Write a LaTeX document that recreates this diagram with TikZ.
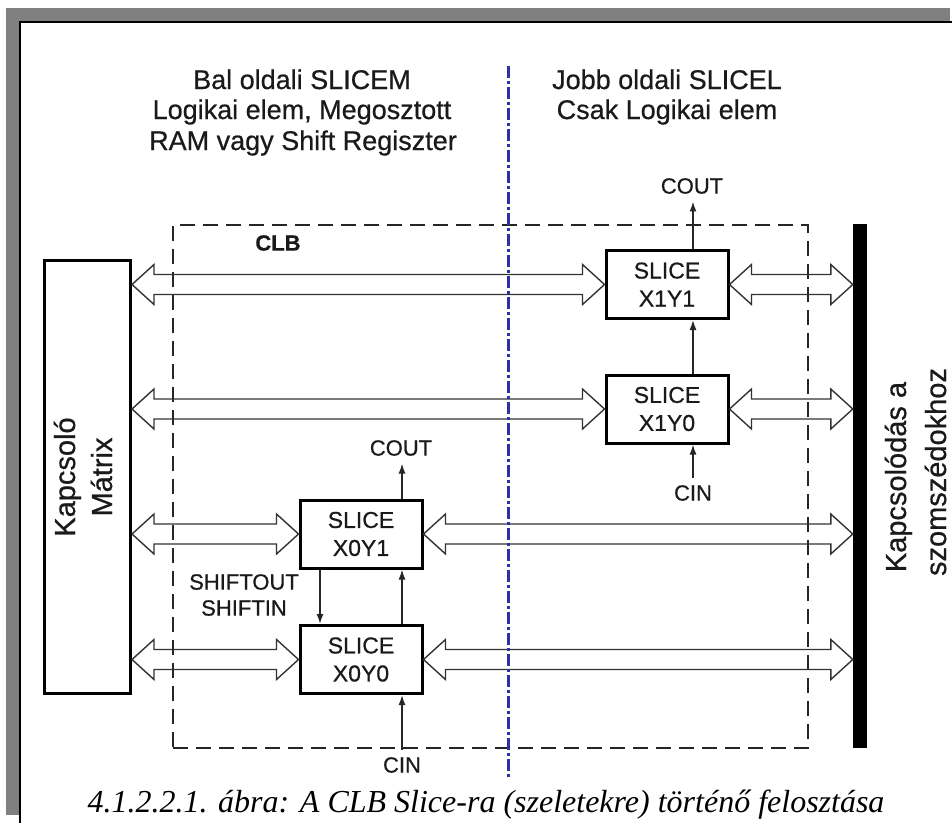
\documentclass[tikz,border=0pt]{standalone}
\usepackage{fontspec}
\setmainfont{Liberation Sans}[RawFeature={embolden=0.6}]
\newfontfamily\capfont{Liberation Serif}
\usetikzlibrary{calc,arrows.meta}

\definecolor{txt}{HTML}{1A1A1A}
\definecolor{frameg}{HTML}{808080}
\definecolor{divblue}{HTML}{2C31A8}
\definecolor{arrline}{HTML}{333333}

\tikzset{
  slicebox/.style={draw=black, line width=3pt, minimum width=122pt, minimum height=68pt,
    inner sep=0pt, align=center, text=txt, font=\fontsize{23}{28}\selectfont},
  lbl/.style={font=\fontsize{22}{26}\selectfont, text=txt, inner xsep=0pt, inner ysep=7.5pt},
  hdr/.style={font=\fontsize{27}{31}\selectfont, text=txt, inner sep=0pt, anchor=base},
  rot/.style={font=\fontsize{29}{35}\selectfont, text=txt, inner sep=0pt, anchor=base, rotate=90},
  sarrow/.style={line width=1.5pt, draw=black!85, -{Latex[length=10pt,width=7pt]}},
  dbl/.style={draw=arrline, line width=1.4pt, line join=miter},
  clbline/.style={draw=black!85, line width=1.6pt, dash pattern=on 15pt off 8pt},
  divline/.style={draw=divblue, line width=3pt, dash pattern=on 12pt off 3pt on 3pt off 3pt},
}

\newcommand{\dblarrow}[2]{%
  \draw[dbl] let \p1=(#1), \p2=(#2) in
   (\x1,\y1) -- (\x1+22pt,\y1+20pt) -- (\x1+22pt,\y1+10pt) -- (\x2-22pt,\y1+10pt)
   -- (\x2-22pt,\y1+20pt) -- (\x2,\y1) -- (\x2-22pt,\y1-20pt) -- (\x2-22pt,\y1-10pt)
   -- (\x1+22pt,\y1-10pt) -- (\x1+22pt,\y1-20pt) -- cycle;}

\begin{document}
\begin{tikzpicture}[x=1pt,y=-1pt]
\useasboundingbox (0,0) rectangle (952,823);
\fill[white] (0,0) rectangle (952,823);

% page frame
\fill[frameg] (6,8) rectangle (950,21);
\fill[frameg] (6,8) rectangle (19,815);
\fill[black] (19,21) rectangle (952,23);
\fill[black] (19,21) rectangle (21,823);

% headers
\node[hdr] (h1a) at (302,89) {Bal oldali SLICEM};
\node[hdr] (h1b) at (302,119) {Logikai elem, Megosztott};
\node[hdr] (h1c) at (303,150) {RAM vagy Shift Regiszter};
\node[hdr] (h2a) at (667,89) {Jobb oldali SLICEL};
\node[hdr] (h2b) at (667,119) {Csak Logikai elem};

% CLB frame
\node[clbline, minimum width=635pt, minimum height=523pt, inner sep=0pt] (clb) at (490.5,486.5) {};
\node[font=\bfseries\fontsize{22}{26}\selectfont, text=txt, inner sep=0pt] (clbl) at (278,243) {CLB};

% switch matrix
\node[draw=black, line width=3pt, minimum width=86pt, minimum height=433pt, inner sep=0pt] (km) at (87.5,477) {};
\node[rot] (km1) at (75,477) {Kapcsoló};
\node[rot] (km2) at (112,477) {Mátrix};

% neighbour bar
\node[fill=black, minimum width=14pt, minimum height=524pt, inner sep=0pt] (bar) at (860,486) {};
\node[rot] (nb1) at (906,477) {Kapcsolódás a};
\node[rot] (nb2) at (946,472) {szomszédokhoz};

% slices
\node[slicebox] (x1y1) at (667,284.5) {SLICE\\X1Y1};
\node[slicebox] (x1y0) at (667,409) {SLICE\\X1Y0};
\node[slicebox] (x0y1) at (361,534) {SLICE\\X0Y1};
\node[slicebox] (x0y0) at (361,659.5) {SLICE\\X0Y0};

% wide bus arrows
\dblarrow{km.east |- x1y1.west}{x1y1.west}
\dblarrow{x1y1.east}{bar.west |- x1y1.east}
\dblarrow{km.east |- x1y0.west}{x1y0.west}
\dblarrow{x1y0.east}{bar.west |- x1y0.east}
\dblarrow{km.east |- x0y1.west}{x0y1.west}
\dblarrow{x0y1.east}{bar.west |- x0y1.east}
\dblarrow{km.east |- x0y0.west}{x0y0.west}
\dblarrow{x0y0.east}{bar.west |- x0y0.east}

% divider
\coordinate (dvt) at (508,66);
\coordinate (dvb) at (508,777);
\draw[divline] (dvt) -- (dvb);

% carry / shift lines
\coordinate (ax1) at (693,0);
\coordinate (ax0r) at (402,0);
\coordinate (ax0l) at (320,0);

\node[lbl] (cout1) at (692,186) {COUT};
\node[lbl] (cin1) at (693,493) {CIN};
\node[lbl] (cout0) at (401,448) {COUT};
\node[lbl] (cin0) at (402,765) {CIN};
\node[font=\fontsize{22}{26}\selectfont, text=txt, inner sep=0pt, align=center] (shift) at (244,595) {SHIFTOUT\\SHIFTIN};

\draw[sarrow] (x1y1.north -| ax1) -- (cout1.south -| ax1);
\draw[sarrow] (x1y0.north -| ax1) -- (x1y1.south -| ax1);
\draw[sarrow] (cin1.north -| ax1) -- (x1y0.south -| ax1);
\draw[sarrow] (x0y1.north -| ax0r) -- (cout0.south -| ax0r);
\draw[sarrow] (x0y0.north -| ax0r) -- (x0y1.south -| ax0r);
\draw[sarrow] (cin0.north -| ax0r) -- (x0y0.south -| ax0r);
\draw[sarrow] (x0y1.south -| ax0l) -- (x0y0.north -| ax0l);

% caption
\node[font=\capfont\itshape\fontsize{32}{36}\selectfont, inner sep=0pt, anchor=base] (cap) at (486,812)
  {4.1.2.2.1. ábra: A CLB Slice-ra (szeletekre) történő felosztása};
\end{tikzpicture}
\end{document}
